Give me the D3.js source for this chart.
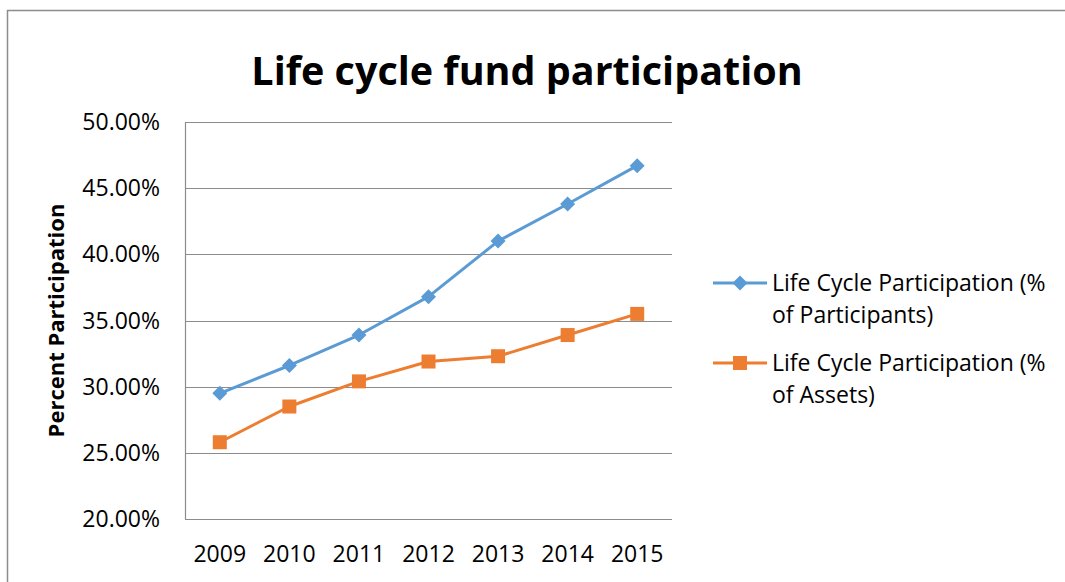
<!DOCTYPE html>
<html>
<head>
<meta charset="utf-8">
<script src="https://cdn.jsdelivr.net/npm/d3@7"></script>
<style>
  body { margin: 0; background: #fff; }
  svg { display: block; font-family: "Open Sans", "Noto Sans", sans-serif; }
</style>
</head>
<body>
<div id="chart"></div>
<script>
// --- data ---
const years = ['2009', '2010', '2011', '2012', '2013', '2014', '2015'];
const participants = [29.5, 31.6, 33.9, 36.8, 41.0, 43.8, 46.7];
const assets = [25.8, 28.5, 30.4, 31.9, 32.3, 33.9, 35.5];
const yTicks = [20, 25, 30, 35, 40, 45, 50];
const seriesNames = ['Life Cycle Participation (% of Participants)', 'Life Cycle Participation (% of Assets)'];

const W = 1065, H = 582;
const plot = { left: 185, top: 122, right: 672, bottom: 519 };

const svg = d3.select('#chart').append('svg')
    .attr('width', W).attr('height', H);

// outer chart border
svg.append('rect')
    .attr('x', 7.5).attr('y', 10.5)
    .attr('width', W).attr('height', H)
    .attr('fill', 'none').attr('stroke', '#8c8c8c').attr('stroke-width', 1.5);

const x = d3.scalePoint().domain(years)
    .range([plot.left, plot.right]).padding(0.5);
const y = d3.scaleLinear().domain([20, 50])
    .range([plot.bottom, plot.top]);

// gridlines
svg.append('g').selectAll('line').data(yTicks).join('line')
    .attr('x1', plot.left).attr('x2', plot.right)
    .attr('y1', d => Math.round(y(d)) + 0.5).attr('y2', d => Math.round(y(d)) + 0.5)
    .attr('stroke', '#8c8c8c').attr('stroke-width', 1.2);

// left axis line
svg.append('line')
    .attr('x1', plot.left + 0.5).attr('x2', plot.left + 0.5)
    .attr('y1', plot.top).attr('y2', plot.bottom)
    .attr('stroke', '#8c8c8c').attr('stroke-width', 1.2);

// y tick labels
svg.append('g').selectAll('text').data(yTicks).join('text')
    .attr('x', 160).attr('y', d => y(d) + 8)
    .attr('text-anchor', 'end')
    .attr('font-size', 23)
    .attr('fill', '#000')
    .text(d => d.toFixed(2) + '%');

// x tick labels
svg.append('g').selectAll('text').data(years).join('text')
    .attr('x', d => x(d)).attr('y', 562)
    .attr('text-anchor', 'middle')
    .attr('font-size', 23)
    .text(d => d);

// title
svg.append('text')
    .attr('x', 527).attr('y', 85)
    .attr('text-anchor', 'middle')
    .attr('font-size', 39.5).attr('font-weight', 'bold')
    .text('Life cycle fund participation');

// y axis title
svg.append('text')
    .attr('transform', `translate(64,${(plot.top + plot.bottom) / 2}) rotate(-90)`)
    .attr('text-anchor', 'middle')
    .attr('font-size', 22).attr('font-weight', 'bold')
    .text('Percent Participation');

// series
const series = [
    { name: seriesNames[0], values: participants, color: '#5b9bd5', shape: 'diamond' },
    { name: seriesNames[1], values: assets, color: '#ed7d31', shape: 'square' }
];

const line = d3.line()
    .x((d, i) => x(years[i]))
    .y(d => y(d));

function marker(g, shape, color) {
    if (shape === 'diamond') {
        g.append('path').attr('d', 'M0,-7.5L7.5,0L0,7.5L-7.5,0Z').attr('fill', color);
    } else {
        g.append('rect').attr('x', -7).attr('y', -7)
            .attr('width', 14).attr('height', 14).attr('fill', color);
    }
}

series.forEach(s => {
    svg.append('path')
        .datum(s.values)
        .attr('d', line)
        .attr('fill', 'none')
        .attr('stroke', s.color)
        .attr('stroke-width', 3)
        .attr('stroke-linejoin', 'round');

    s.values.forEach((v, i) => {
        const g = svg.append('g').attr('transform', `translate(${x(years[i])},${y(v)})`);
        marker(g, s.shape, s.color);
    });
});

// legend
const legendY = [283, 363];
series.forEach((s, i) => {
    const ly = legendY[i];
    svg.append('line')
        .attr('x1', 713).attr('x2', 767)
        .attr('y1', ly).attr('y2', ly)
        .attr('stroke', s.color).attr('stroke-width', 3);
    const g = svg.append('g').attr('transform', `translate(740,${ly})`);
    marker(g, s.shape, s.color);

    const parts = s.name.split(' (% ');
    const t = svg.append('text')
        .attr('font-size', 23);
    t.append('tspan').attr('x', 772).attr('y', ly + 8).text(parts[0] + ' (%');
    t.append('tspan').attr('x', 772).attr('y', ly + 40).text(parts[1]);
});
</script>
</body>
</html>
